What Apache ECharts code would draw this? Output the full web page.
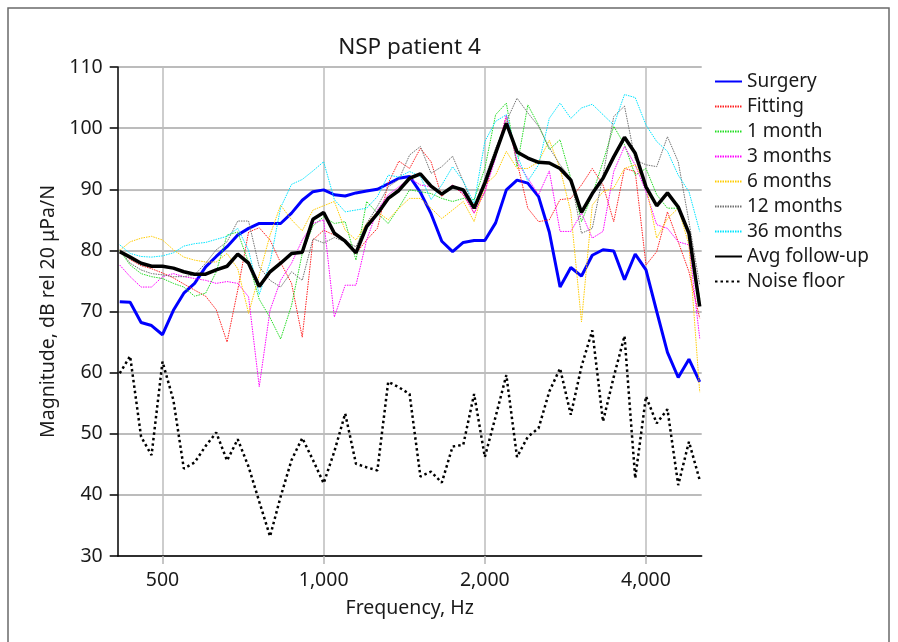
<!DOCTYPE html>
<html>
<head>
<meta charset="utf-8">
<script src="https://cdn.jsdelivr.net/npm/echarts@6/dist/echarts.min.js"></script>
<style>html,body{margin:0;padding:0;background:#fff;}#c{width:898px;height:642px;}</style>
</head>
<body>
<div id="c"></div>
<script>
// Frequencies (Hz), 1/15-octave spacing
const freqs = [416, 435, 456, 477, 500, 524, 548, 574, 602, 630, 660, 691, 724, 758, 794, 831, 871, 912, 955,
  1000, 1047, 1097, 1149, 1203, 1260, 1320, 1382, 1447, 1516, 1587, 1662, 1741, 1823, 1910,
  2000, 2095, 2194, 2297, 2406, 2520, 2639, 2764, 2895, 3031, 3175, 3325, 3482, 3647, 3819,
  4000, 4189, 4387, 4595, 4812, 5040];
const xTickFreqs = [500, 1000, 2000, 4000];
const yTicks = [30, 40, 50, 60, 70, 80, 90, 100, 110];

const surgery = [71.6, 71.5, 68.2, 67.7, 66.2, 70.2, 73.0, 74.6, 77.3, 79.0, 80.6, 82.5, 83.6, 84.4, 84.4, 84.4, 86.1, 88.2, 89.6,
  89.9, 89.1, 88.9, 89.4, 89.7, 90.0, 90.9, 91.8, 92.1, 89.5, 86.0, 81.5, 79.8, 81.3, 81.6,
  81.6, 84.5, 89.9, 91.5, 91.0, 88.8, 83.0, 74.0, 77.2, 75.8, 79.2, 80.1, 79.9, 75.2, 79.4,
  76.8, 70.0, 63.3, 59.2, 62.2, 58.5];
const fitting = [80.0, 78.5, 77.5, 77.0, 76.3, 75.5, 74.5, 73.5, 72.5, 70.3, 65.0, 73.5, 83.0, 83.7, 81.7, 78.0, 74.6, 65.8, 81.7,
  83.3, 82.5, 81.7, 79.5, 81.7, 83.6, 91.0, 94.6, 93.4, 96.7, 94.5, 88.8, 90.7, 89.1, 86.1,
  89.6, 95.9, 101.9, 94.5, 86.9, 84.7, 85.0, 88.3, 88.5, 90.7, 93.4, 90.7, 84.7, 93.4, 92.9,
  77.6, 79.8, 86.3, 81.4, 76.5, 68.9];
const month1 = [80.0, 77.6, 76.2, 75.7, 75.4, 74.6, 74.0, 72.5, 73.0, 76.5, 82.5, 83.0, 78.0, 72.0, 69.0, 65.5, 71.0, 79.5, 84.0,
  85.5, 84.4, 84.7, 78.4, 88.0, 86.1, 84.4, 87.0, 89.9, 89.6, 89.3, 88.5, 88.0, 88.5, 88.3,
  93.4, 102.2, 104.1, 93.7, 103.8, 100.5, 96.5, 98.1, 91.8, 84.7, 89.1, 94.5, 100.3, 97.3, 92.3,
  93.4, 89.1, 86.9, 86.9, 82.5, 72.1];
const months3 = [77.6, 75.7, 74.0, 74.0, 75.7, 76.2, 75.7, 75.4, 75.1, 74.6, 74.9, 74.6, 72.4, 57.7, 70.2, 75.1, 77.9, 81.7, 84.4,
  85.0, 69.1, 74.3, 74.3, 81.7, 86.6, 89.1, 90.4, 91.8, 90.7, 90.4, 89.1, 90.7, 89.3, 86.1,
  89.6, 95.1, 102.2, 94.5, 91.8, 89.1, 93.0, 83.1, 83.1, 86.1, 82.0, 83.1, 92.9, 97.0, 94.0,
  89.6, 84.2, 83.6, 81.4, 80.9, 65.6];
const months6 = [80.0, 81.4, 82.0, 82.3, 81.7, 80.1, 78.9, 78.4, 78.1, 78.1, 79.5, 77.0, 69.7, 76.0, 82.5, 87.4, 85.0, 83.2, 86.6,
  87.3, 88.0, 83.3, 81.7, 84.4, 86.3, 85.0, 86.9, 88.5, 88.5, 86.9, 85.2, 86.6, 88.0, 84.7,
  90.7, 92.3, 96.2, 93.4, 93.4, 94.5, 98.0, 93.4, 86.3, 68.3, 87.4, 89.6, 90.2, 93.4, 94.0,
  90.7, 82.0, 85.2, 86.9, 80.9, 56.8];
const months12 = [80.1, 77.9, 76.8, 76.2, 76.0, 75.7, 75.7, 76.0, 77.9, 80.1, 81.4, 84.8, 84.8, 77.3, 75.1, 74.0, 76.5, 75.1, 81.9,
  81.2, 82.1, 81.4, 80.6, 84.4, 87.2, 90.4, 91.6, 95.6, 97.0, 92.6, 93.7, 95.4, 91.3, 86.9,
  91.8, 96.7, 101.1, 104.9, 102.5, 100.3, 96.8, 94.0, 91.8, 82.8, 83.6, 92.3, 101.9, 103.6, 94.8,
  94.0, 93.7, 98.6, 94.5, 84.7, 74.3];
const months36 = [80.9, 79.5, 79.0, 78.9, 79.1, 79.6, 80.7, 81.1, 81.3, 81.8, 82.3, 83.6, 80.0, 72.8, 78.0, 87.0, 90.8, 91.6, 93.0,
  94.5, 88.3, 86.3, 86.6, 86.9, 88.8, 92.3, 92.0, 92.9, 92.1, 88.3, 90.7, 93.7, 91.3, 87.7,
  97.8, 101.1, 102.2, 95.6, 91.3, 94.0, 101.6, 104.1, 101.6, 103.3, 103.9, 102.2, 100.5, 105.5, 105.0,
  100.5, 97.8, 96.2, 92.3, 89.6, 83.1];
const avgFollowUp = [79.8, 78.9, 77.9, 77.4, 77.4, 77.1, 76.5, 76.1, 76.1, 76.8, 77.4, 79.4, 77.9, 74.1, 76.5, 77.9, 79.5, 79.7, 85.1,
  86.2, 82.8, 81.5, 79.6, 83.9, 86.0, 88.5, 89.8, 91.8, 92.5, 90.5, 89.2, 90.4, 89.9, 86.9,
  91.0, 95.9, 100.8, 96.1, 95.1, 94.4, 94.3, 93.4, 91.5, 86.2, 89.3, 91.8, 95.3, 98.5, 95.9,
  90.4, 87.3, 89.4, 87.1, 82.8, 70.8];
const noiseFloor = [59.9, 62.7, 49.5, 46.5, 61.8, 55.5, 44.3, 45.3, 48.0, 50.2, 45.6, 49.1, 44.6, 38.9, 33.2, 39.7, 45.7, 49.3, 45.7,
  41.9, 47.1, 53.3, 45.1, 44.5, 44.0, 58.5, 57.6, 56.5, 43.0, 43.8, 42.0, 47.9, 48.2, 56.5,
  46.2, 52.8, 59.6, 46.2, 49.5, 50.9, 56.9, 60.7, 53.1, 61.0, 66.9, 52.0, 59.3, 66.0, 42.7,
  56.1, 51.7, 54.0, 41.6, 48.7, 42.4];

const FONT = 'Noto Sans';
const oct = f => Math.log2(f / 1000);
const toPts = vals => freqs.map((f, i) => [oct(f), vals[i]]);

const thin = (name, vals, color) => ({
  name, type: 'line', data: toPts(vals), symbol: 'none', animation: false,
  lineStyle: { color, width: 1, type: [1.5, 1] }, itemStyle: { color }
});

const series = [
  { name: 'Surgery', type: 'line', data: toPts(surgery), symbol: 'none', animation: false,
    lineStyle: { color: '#0000ff', width: 3 }, itemStyle: { color: '#0000ff' } },
  thin('Fitting', fitting, '#ff2020'),
  thin('1 month', month1, '#22dd22'),
  thin('3 months', months3, '#ff00ff'),
  thin('6 months', months6, '#ffcc00'),
  thin('12 months', months12, '#707070'),
  thin('36 months', months36, '#00e5ff'),
  { name: 'Avg follow-up', type: 'line', data: toPts(avgFollowUp), symbol: 'none', animation: false,
    lineStyle: { color: '#000', width: 3.5 }, itemStyle: { color: '#000' } },
  { name: 'Noise floor', type: 'line', data: toPts(noiseFloor), symbol: 'none', animation: false,
    lineStyle: { color: '#000', width: 2.5, type: [2.5, 3] }, itemStyle: { color: '#000' } }
];

const chart = echarts.init(document.getElementById('c'), null, { renderer: 'canvas' });
chart.setOption({
  backgroundColor: '#fff',
  animation: false,
  textStyle: { fontFamily: FONT },
  title: {
    text: 'NSP patient 4', left: 404.5, textAlign: 'center', top: 31,
    textStyle: { fontFamily: FONT, fontSize: 22.5, fontWeight: 'normal', color: '#1a1a1a' }
  },
  graphic: [{
    type: 'rect', shape: { x: 8, y: 8, width: 881, height: 700 },
    style: { fill: 'none', stroke: '#6a6a6a', lineWidth: 1.5 }, silent: true, z: -10
  }],
  grid: { left: 117.7, right: 196.3, top: 67, bottom: 86, containLabel: false },
  legend: {
    orient: 'vertical', left: 709, top: 67, itemWidth: 27, itemHeight: 10, itemGap: 6,
    itemStyle: { opacity: 0 },
    textStyle: { fontFamily: FONT, fontSize: 19, color: '#1a1a1a', lineHeight: 17 },
    data: series.map(s => s.name)
  },
  xAxis: {
    type: 'value', min: -1.278, max: 2.3457,
    name: 'Frequency, Hz', nameLocation: 'middle', nameGap: 42,
    nameTextStyle: { fontFamily: FONT, fontSize: 19.5, color: '#1a1a1a' },
    axisLine: { show: true, onZero: false, lineStyle: { color: '#000', width: 1.5 } },
    axisTick: { show: true, length: 8, customValues: xTickFreqs.map(oct), lineStyle: { color: '#b4b4b4', width: 1.5 } },
    axisLabel: {
      customValues: xTickFreqs.map(oct), margin: 14, fontFamily: FONT, fontSize: 19.5, color: '#1a1a1a',
      formatter: v => Math.round(1000 * Math.pow(2, v)).toLocaleString('en-US')
    },
    splitLine: { show: true, lineStyle: { color: '#bdbdbd', width: 1.5 } }
  },
  yAxis: {
    type: 'value', min: yTicks[0], max: yTicks[yTicks.length - 1], interval: 10,
    name: 'Magnitude, dB rel 20 \u03bcPa/N', nameLocation: 'middle', nameGap: 58,
    nameTextStyle: { fontFamily: FONT, fontSize: 19.5, color: '#1a1a1a' },
    axisLine: { show: true, onZero: false, lineStyle: { color: '#000', width: 1.5 } },
    axisTick: { show: true, length: 8, lineStyle: { color: '#000', width: 1.5 } },
    axisLabel: { margin: 15, fontFamily: FONT, fontSize: 19.5, color: '#1a1a1a' },
    splitLine: { show: true, lineStyle: { color: '#a6a6a6', width: 1.5 } }
  },
  series
});
</script>
</body>
</html>
